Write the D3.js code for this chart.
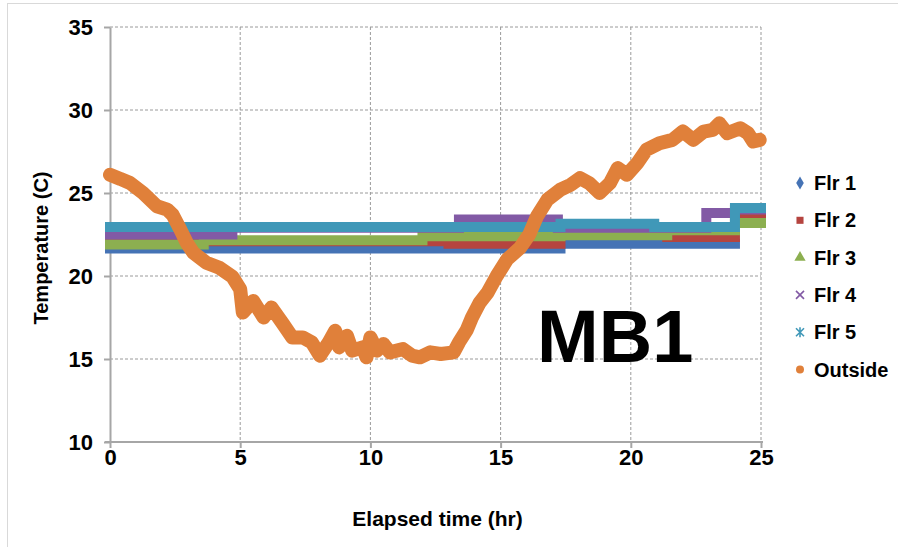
<!DOCTYPE html>
<html>
<head>
<meta charset="utf-8">
<script src="https://cdn.jsdelivr.net/npm/d3@7"></script>
<style>
  body { margin: 0; background: #fff; }
  text { font-family: "Liberation Sans", Arial, sans-serif; font-weight: bold; fill: #000; }
  .grid line { stroke: #9a9a9a; stroke-width: 1; stroke-dasharray: 3,2; }
  .axis path, .axis line { stroke: #a6a6a6; stroke-width: 2; }
</style>
</head>
<body>
<script>
// chart values
var xTicks = [0, 5, 10, 15, 20, 25];
var yTicks = [10, 15, 20, 25, 30, 35];
var names = ["Flr 1", "Flr 2", "Flr 3", "Flr 4", "Flr 5", "Outside"];
var colors = ["#4573b5", "#b5443f", "#8caf50", "#825aa5", "#4098b8", "#e0803a"];

// floor sensors: hour where the reading changes, and the reading (step data)
var flr1_hr = [0, 17.3, 24.0];
var flr1_t  = [21.65, 21.95, 21.95];
var flr2_hr = [0, 0.9, 13.0, 17.3, 21.4, 24.0, 25];
var flr2_t  = [22.15, 22.1, 21.95, 22.5, 22.35, 23.5, 23.5];
var flr3_hr = [0, 3.6, 12.0, 17.3, 21.4, 24.0, 25];
var flr3_t  = [21.9, 22.15, 22.4, 22.45, 22.75, 23.2, 23.2];
var flr4_hr = [0, 4.7, 13.4, 17.2, 22.9, 24.0, 25];
var flr4_t  = [22.5, 22.9, 23.4, 22.9, 23.8, 24.0, 24.0];
var flr5_hr = [0, 17.3, 20.9, 24.0, 25];
var flr5_t  = [22.95, 23.15, 22.95, 24.1, 24.1];

// outside air
var out_hr = [0, 0.4, 0.77, 1.27, 1.8, 2.2, 2.4, 2.7, 2.95, 3.2, 3.7, 4.2, 4.7, 5.0, 5.1, 5.5, 5.9, 6.2, 6.65, 7.0,
              7.4, 7.75, 8.06, 8.4, 8.65, 8.8, 9.1, 9.3, 9.7, 9.85, 10.0, 10.25, 10.5, 10.75, 11.25, 11.6, 11.9, 12.3, 12.7, 13.2,
              13.4, 13.7, 13.9, 14.2, 14.5, 14.85, 15.25, 15.75, 16.1, 16.4, 16.8, 17.3, 17.7, 18.05, 18.4, 18.8, 19.2, 19.5, 19.85, 20.25,
              20.6, 21.1, 21.6, 22.0, 22.4, 22.8, 23.15, 23.4, 23.7, 24.2, 24.5, 24.7, 24.95];
var out_t  = [26.1, 25.85, 25.6, 25.0, 24.2, 24.0, 23.7, 22.8, 22.0, 21.4, 20.8, 20.5, 19.95, 19.2, 17.8, 18.5, 17.5, 18.1, 17.1, 16.3,
              16.3, 16.0, 15.2, 16.0, 16.7, 15.7, 16.4, 15.5, 15.7, 15.1, 16.3, 15.5, 15.9, 15.4, 15.6, 15.2, 15.1, 15.4, 15.3, 15.4,
              16.0, 16.75, 17.5, 18.4, 19.0, 20.0, 21.0, 21.7, 22.5, 23.6, 24.6, 25.2, 25.5, 25.9, 25.6, 25.0, 25.6, 26.5, 26.1, 26.8,
              27.6, 28.0, 28.2, 28.7, 28.2, 28.7, 28.8, 29.2, 28.6, 28.9, 28.6, 28.1, 28.2];

var flrHr = [flr1_hr, flr2_hr, flr3_hr, flr4_hr, flr5_hr];
var flrT  = [flr1_t, flr2_t, flr3_t, flr4_t, flr5_t];

// canvas
var margin = {top: 27, right: 137, bottom: 105, left: 110},
    width = 898 - margin.left - margin.right,
    height = 547 - margin.top - margin.bottom;

var x = d3.scaleLinear().domain([0, 25]).range([0, width]);
var y = d3.scaleLinear().domain([10, 35]).range([height, 0]);

var root = d3.select("body").append("svg")
    .attr("width", 898)
    .attr("height", 547);

// faint chart border
root.append("rect")
    .attr("x", 7.5).attr("y", 3.5)
    .attr("width", 1000).attr("height", 1000)
    .attr("fill", "none")
    .attr("stroke", "#d9d9d9");

var svg = root.append("g")
    .attr("transform", "translate(" + margin.left + "," + margin.top + ")");

// dashed gridlines
svg.append("g").attr("class", "grid")
  .selectAll("line").data(yTicks.slice(1)).enter().append("line")
    .attr("x1", 0).attr("x2", width)
    .attr("y1", function(d) { return y(d); })
    .attr("y2", function(d) { return y(d); });
svg.append("g").attr("class", "grid")
  .selectAll("line").data(xTicks.slice(1)).enter().append("line")
    .attr("y1", 0).attr("y2", height)
    .attr("x1", function(d) { return x(d); })
    .attr("x2", function(d) { return x(d); });

// axes
var yAxis = svg.append("g")
    .attr("class", "axis")
    .call(d3.axisLeft(y).tickValues(yTicks).tickSize(6).tickSizeOuter(0).tickPadding(11));
yAxis.selectAll("text").style("font-size", "22px").attr("dy", "0.36em");

var xAxis = svg.append("g")
    .attr("class", "axis")
    .attr("transform", "translate(0," + height + ")")
    .call(d3.axisBottom(x).tickValues(xTicks).tickSize(6).tickSizeOuter(0).tickPadding(1));
xAxis.selectAll("text").style("font-size", "22px").attr("dy", "0.71em");
xAxis.select(".domain").attr("d", "M-5,0H" + (width + 2));

// floor series, drawn as thick step bands
var stepLine = d3.line()
    .curve(d3.curveStepAfter)
    .x(function(d) { return x(d[0]); })
    .y(function(d) { return y(d[1]); });

flrHr.forEach(function(hrs, i) {
    var pts = hrs.map(function(h, j) { return [h, flrT[i][j]]; });
    svg.append("path")
        .attr("d", stepLine(pts))
        .attr("fill", "none")
        .attr("stroke", colors[i])
        .attr("stroke-width", 10)
        .attr("stroke-linecap", "square");
});

// outside series
var outLine = d3.line()
    .x(function(d) { return x(d[0]); })
    .y(function(d) { return y(d[1]); });
svg.append("path")
    .attr("d", outLine(out_hr.map(function(h, j) { return [h, out_t[j]]; })))
    .attr("fill", "none")
    .attr("stroke", colors[5])
    .attr("stroke-width", 14)
    .attr("stroke-linecap", "round")
    .attr("stroke-linejoin", "round");

// axis titles
svg.append("text")
    .attr("x", width / 2 + 2)
    .attr("y", height + 84)
    .attr("text-anchor", "middle")
    .style("font-size", "21px")
    .text("Elapsed time (hr)");
root.append("text")
    .attr("transform", "translate(48,248) rotate(-90)")
    .attr("text-anchor", "middle")
    .style("font-size", "20px")
    .text("Temperature (C)");

// big label
svg.append("text")
    .attr("x", x(16.4))
    .attr("y", y(14.8))
    .style("font-size", "74px")
    .text("MB1");

// legend
var legend = root.append("g").attr("transform", "translate(800,183)");
var symbols = [d3.symbolDiamond, d3.symbolSquare, d3.symbolTriangle, d3.symbolCross, d3.symbolCross, d3.symbolCircle];
names.forEach(function(n, i) {
    var row = legend.append("g").attr("transform", "translate(0," + (i * 37.3) + ")");
    if (i == 3 || i == 4) {
        var s = 4;
        row.append("path")
            .attr("d", "M" + (-s) + "," + (-s) + "L" + s + "," + s + "M" + (-s) + "," + s + "L" + s + "," + (-s) +
                 (i == 4 ? "M0," + (-s - 1) + "L0," + (s + 1) : ""))
            .attr("stroke", colors[i])
            .attr("stroke-width", 1.6)
            .attr("fill", "none");
    } else {
        row.append("path")
            .attr("d", d3.symbol().type(symbols[i]).size(i == 2 ? 55 : 50)())
            .attr("fill", colors[i]);
    }
    row.append("text")
        .attr("x", 14)
        .attr("y", 7)
        .style("font-size", "20px")
        .text(n);
});
</script>
</body>
</html>
